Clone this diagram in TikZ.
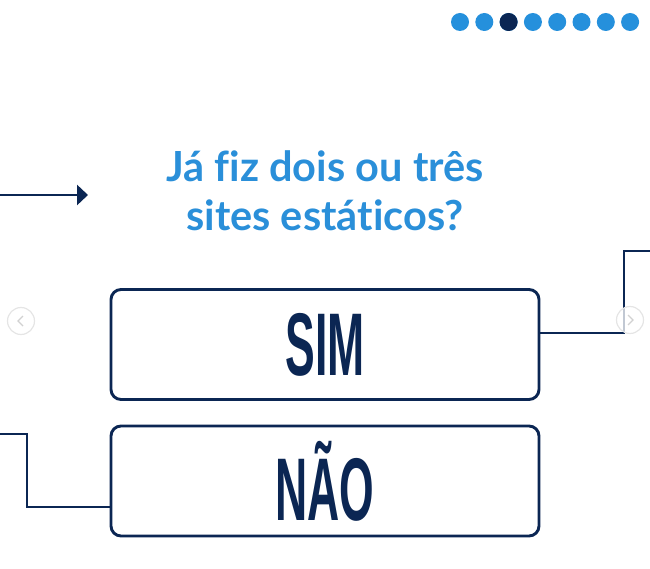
\documentclass[tikz,border=0pt]{standalone}
\usepackage{fontspec}
\setmainfont{Lato}[Ligatures=CommonOff]
\newfontfamily\condfont[FakeStretch=0.5]{Liberation Sans}
\usetikzlibrary{arrows.meta,positioning}
\definecolor{navy}{HTML}{0B2653}
\definecolor{skyblue}{HTML}{2A8FD9}
\definecolor{dotblue}{HTML}{2590DC}
\tikzset{
  x=1pt, y=-1pt,
  link/.style  ={draw=navy, line width=2.9pt},
  choice/.style={draw=navy, line width=2.9pt, rounded corners=10pt, minimum width=428pt,
                 minimum height=110pt, inner sep=0pt, text=navy, font=\condfont\bfseries\fontsize{89}{89}\selectfont},
  quest/.style ={align=center, text=skyblue, font=\bfseries\fontsize{41.5}{49}\selectfont},
  navdot/.style={circle, fill=dotblue, minimum size=18pt, inner sep=0pt},
  slide/.style ={circle, draw=black!10, fill=white, fill opacity=0.75, line width=1.2pt, minimum size=27pt, inner sep=0pt}
}
\begin{document}
\begin{tikzpicture}
\useasboundingbox (0,0) rectangle (650,569);
% page dots
\foreach \i in {0,...,7} \node[navdot] (dot\i) at (460+24.3*\i,22) {};
\node[navdot, fill=navy] at (dot2) {};
% question
\node[quest] (q) at (325,191) {Já fiz dois ou três\\sites estáticos?};
\coordinate (inL) at (0,195);
\coordinate (inEnd) at (88,195);
\draw[link, -{Triangle[length=11pt, width=20pt]}] (inL) -- (inEnd);
% answers
\node[choice] (sim) at (325,344.5) {SIM};
\node[choice] (nao) at (325,481) {NÃO};
\coordinate (simOut) at (624,333);
\coordinate (exitR) at (650,251);
\draw[link] (sim.east |- simOut) -- (simOut) |- (exitR);
\coordinate (entryL) at (0,434);
\coordinate (naoIn) at (27,507);
\draw[link] (entryL) -| (naoIn) -- (nao.west |- naoIn);
% carousel buttons
\node[slide] (prev) at (21,321) {};
\node[slide] (next) at (630,320) {};
\draw[black!18, line width=1.3pt] ([xshift=2pt, yshift=5pt]prev.center) -- ([xshift=-3pt]prev.center) -- ([xshift=2pt, yshift=-5pt]prev.center);
\draw[black!18, line width=1.3pt] ([xshift=-2pt, yshift=5pt]next.center) -- ([xshift=3pt]next.center) -- ([xshift=-2pt, yshift=-5pt]next.center);
\end{tikzpicture}
\end{document}
